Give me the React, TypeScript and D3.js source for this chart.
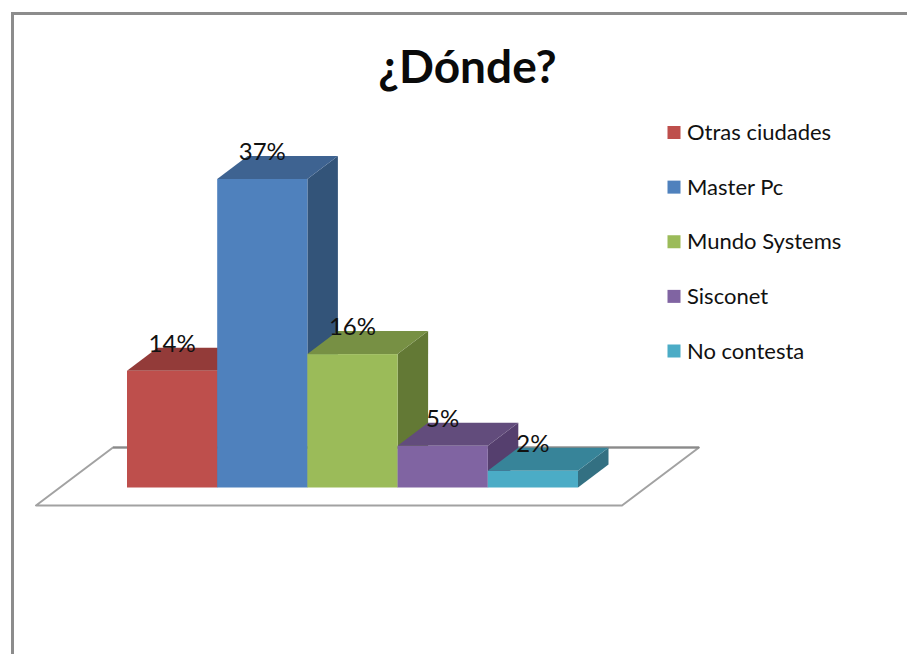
import React from "react";
import * as d3 from "d3";

const categories = ["Otras ciudades", "Master Pc", "Mundo Systems", "Sisconet", "No contesta"];
const percentages = [14, 37, 16, 5, 2];
const frontColors = ["#BE4F4C", "#4F81BD", "#9BBB59", "#8064A2", "#4BACC6"];
const topColors = ["#933B39", "#3E6391", "#779044", "#624C7C", "#378499"];
const sideColors = ["#7D3230", "#335479", "#637935", "#553F6E", "#337082"];

const WIDTH = 907;
const HEIGHT = 654;
const FONT = "Lato, Carlito, 'Open Sans', sans-serif";
const DEPTH_X = 30.5;
const DEPTH_Y = 23;
const BASE_Y = 487.5;

const x = d3.scaleBand<string>().domain(categories).range([127, 578]).padding(0);
const y = d3.scaleLinear().domain([0, 37]).range([BASE_Y, 179]);
const legendY = d3.scalePoint<string>().domain(categories).range([132.5, 351]);

const polygon = d3.line<[number, number]>().curve(d3.curveLinearClosed);

const floor: [number, number][] = [
  [36, 505.5],
  [622, 505.5],
  [699, 447.5],
  [113, 447.5],
];

export default function App() {
  return (
    <svg
      width={WIDTH}
      height={HEIGHT}
      viewBox={`0 0 ${WIDTH} ${HEIGHT}`}
      style={{ position: "fixed", left: 0, top: 0, background: "#fff" }}
    >
      {/* Chart frame: only the top and left edges fall inside the view */}
      <path d={`M12.5 ${HEIGHT} V13.5 H${WIDTH}`} fill="none" stroke="#8C8C8C" strokeWidth={3} />

      <text
        x={467.5}
        y={83}
        textAnchor="middle"
        fontFamily={FONT}
        fontWeight={700}
        fontSize={46}
        fill="#0a0a0a"
      >
        ¿Dónde?
      </text>

      {/* Floor of the 3D plot */}
      <path d={polygon(floor) ?? ""} fill="#fff" stroke="#A2A2A2" strokeWidth={2} strokeLinejoin="round" />
      <line x1={113} x2={699} y1={447.5} y2={447.5} stroke="#8A8A8A" strokeWidth={2} />

      {/* Extruded bars, painted left to right so each one covers its neighbour's side */}
      {categories.map((c, i) => {
        const x0 = x(c) as number;
        const x1 = x0 + x.bandwidth();
        const top = y(percentages[i]);
        const side: [number, number][] = [
          [x1, top],
          [x1 + DEPTH_X, top - DEPTH_Y],
          [x1 + DEPTH_X, BASE_Y - DEPTH_Y],
          [x1, BASE_Y],
        ];
        const lid: [number, number][] = [
          [x0, top],
          [x0 + DEPTH_X, top - DEPTH_Y],
          [x1 + DEPTH_X, top - DEPTH_Y],
          [x1, top],
        ];
        return (
          <g key={c}>
            <path d={polygon(side) ?? ""} fill={sideColors[i]} />
            <path d={polygon(lid) ?? ""} fill={topColors[i]} />
            <rect x={x0} y={top} width={x.bandwidth()} height={BASE_Y - top} fill={frontColors[i]} />
          </g>
        );
      })}

      {/* Value labels sit over the back edge of each bar's top face */}
      {categories.map((c, i) => (
        <text
          key={c}
          x={(x(c) as number) + x.bandwidth() / 2}
          y={y(percentages[i]) - DEPTH_Y + 4}
          textAnchor="middle"
          fontFamily={FONT}
          fontSize={24}
          fill="#111"
        >
          {percentages[i]}%
        </text>
      ))}

      {/* Legend */}
      {categories.map((c, i) => {
        const cy = legendY(c) as number;
        return (
          <g key={c}>
            <rect x={667.5} y={cy - 6.5} width={13} height={13} fill={frontColors[i]} />
            <text x={687} y={cy + 7.5} fontFamily={FONT} fontSize={22} fill="#111">
              {c}
            </text>
          </g>
        );
      })}
    </svg>
  );
}
